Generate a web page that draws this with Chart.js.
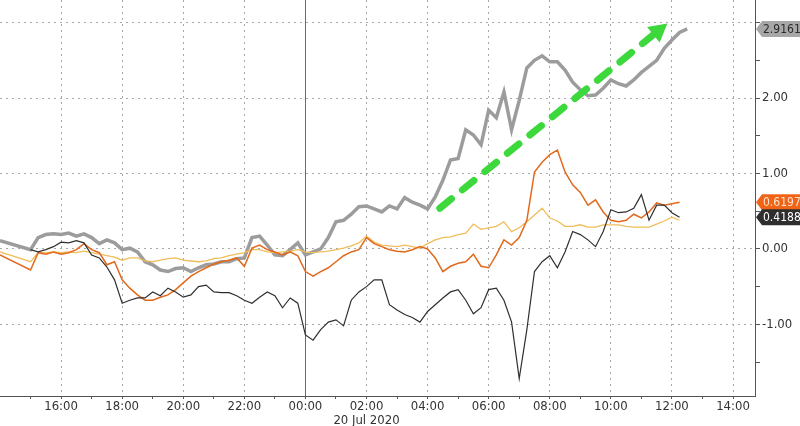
<!DOCTYPE html>
<html>
<head>
<meta charset="utf-8">
<script src="https://cdn.jsdelivr.net/npm/chart.js@4/dist/chart.umd.min.js"></script>
<style>
  html, body { margin: 0; padding: 0; background: #fff; }
  #wrap { width: 800px; height: 426px; position: relative; }
</style>
</head>
<body>
<div id="wrap"><canvas id="myChart"></canvas></div>
<script>
// hours relative to 00:00 on 20 Jul 2020 (-10 = 14:00 on 19 Jul)
const hours = [-10,
    -9, -8.75, -8.5, -8.25, -8, -7.75, -7.5, -7.25, -7, -6.75, -6.5, -6.25,
    -6, -5.75, -5.5, -5.25, -5, -4.75, -4.5, -4.25, -4, -3.75, -3.5, -3.25,
    -3, -2.75, -2.5, -2.25, -2, -1.75, -1.5, -1.25, -1, -0.75, -0.5, -0.25,
    0, 0.25, 0.5, 0.75, 1, 1.25, 1.5, 1.75, 2, 2.25, 2.5, 2.75,
    3, 3.25, 3.5, 3.75, 4, 4.25, 4.5, 4.75, 5, 5.25, 5.5, 5.75,
    6, 6.25, 6.5, 6.75, 7, 7.25, 7.5, 7.75, 8, 8.25, 8.5, 8.75,
    9, 9.25, 9.5, 9.75, 10, 10.25, 10.5, 10.75, 11, 11.25, 11.5, 11.75,
    12, 12.25, 12.5]

const grey = [0.11,
    -0.01, 0.15, 0.19, 0.2, 0.19, 0.21, 0.17, 0.2, 0.15, 0.07, 0.12, 0.08,
    -0.01, 0.01, -0.04, -0.17, -0.21, -0.28, -0.3, -0.26, -0.25, -0.3, -0.25, -0.21,
    -0.2, -0.17, -0.17, -0.13, -0.12, 0.15, 0.17, 0.05, -0.08, -0.09, -0.01, 0.08,
    -0.08, -0.04, 0, 0.15, 0.36, 0.38, 0.46, 0.56, 0.57, 0.53, 0.49, 0.57,
    0.53, 0.68, 0.62, 0.58, 0.53, 0.69, 0.91, 1.18, 1.2, 1.58, 1.51, 1.38,
    1.84, 1.74, 2.08, 1.58, 1.97, 2.4, 2.5, 2.56, 2.48, 2.48, 2.37, 2.21,
    2.11, 2.03, 2.04, 2.13, 2.24, 2.19, 2.16, 2.24, 2.34, 2.42, 2.5, 2.66,
    2.77, 2.87, 2.9161]

const orange = [-0.08,
    -0.28, -0.05, -0.07, -0.04, -0.07, -0.05, -0.01, 0.07, -0.01, -0.05, -0.21, -0.17,
    -0.41, -0.52, -0.61, -0.68, -0.68, -0.64, -0.61, -0.54, -0.45, -0.36, -0.3, -0.25,
    -0.2, -0.17, -0.15, -0.12, -0.23, 0.01, 0.05, -0.01, -0.04, -0.08, -0.04, -0.09,
    -0.3, -0.36, -0.3, -0.25, -0.17, -0.09, -0.04, -0.01, 0.15, 0.07, 0.03, -0.01,
    -0.03, -0.04, -0.01, 0.03, 0, -0.12, -0.3, -0.23, -0.19, -0.17, -0.07, -0.23,
    -0.25, -0.08, 0.12, 0.05, 0.15, 0.38, 1.02, 1.15, 1.25, 1.31, 1.02, 0.85,
    0.75, 0.58, 0.65, 0.49, 0.38, 0.36, 0.38, 0.46, 0.41, 0.49, 0.61, 0.58,
    0.6, 0.6197, null]

const black = [null,
    -0.01, -0.04, -0.01, 0.03, 0.09, 0.08, 0.11, 0.08, -0.08, -0.12, -0.24, -0.41,
    -0.72, -0.68, -0.65, -0.65, -0.57, -0.62, -0.52, -0.57, -0.64, -0.61, -0.5, -0.48,
    -0.57, -0.58, -0.58, -0.62, -0.68, -0.72, -0.64, -0.57, -0.62, -0.78, -0.65, -0.72,
    -1.14, -1.21, -1.07, -0.97, -0.94, -1.02, -0.68, -0.57, -0.5, -0.41, -0.41, -0.74,
    -0.81, -0.87, -0.91, -0.97, -0.83, -0.74, -0.65, -0.57, -0.54, -0.68, -0.86, -0.78,
    -0.54, -0.52, -0.68, -0.97, -1.72, -1.07, -0.3, -0.17, -0.09, -0.25, -0.04, 0.23,
    0.19, 0.12, 0.03, 0.23, 0.52, 0.48, 0.49, 0.54, 0.72, 0.38, 0.58, 0.58,
    0.48, 0.4188, null]

const yellow = [-0.04,
    -0.17, -0.05, -0.05, -0.04, -0.05, -0.04, -0.05, -0.03, -0.05, -0.07, -0.09, -0.11,
    -0.15, -0.12, -0.12, -0.16, -0.17, -0.15, -0.13, -0.12, -0.15, -0.16, -0.17, -0.16,
    -0.13, -0.12, -0.09, -0.07, -0.05, -0.01, -0.01, -0.04, -0.05, -0.04, -0.03, -0.01,
    -0.04, -0.05, -0.04, -0.03, -0.01, 0.01, 0.04, 0.08, 0.17, 0.09, 0.05, 0.04,
    0.03, 0.05, 0.03, 0.01, 0.07, 0.12, 0.15, 0.16, 0.19, 0.21, 0.33, 0.26,
    0.28, 0.3, 0.36, 0.23, 0.28, 0.36, 0.45, 0.54, 0.41, 0.37, 0.3, 0.3,
    0.32, 0.29, 0.29, 0.32, 0.32, 0.32, 0.3, 0.29, 0.29, 0.29, 0.33, 0.37,
    0.42, 0.38, null]

// x axis labels
const tickHours = [-8, -6, -4, -2, 0, 2, 4, 6, 8, 10, 12, 14]
const tickLabels = ['16:00', '18:00', '20:00', '22:00', '00:00', '02:00', '04:00', '06:00', '08:00', '10:00', '12:00', '14:00']
const dateHour = 2
const dateLabel = '20 Jul 2020'

// y axis labels
const yTicks = [-1, 0, 1, 2]

// last value tags on the right axis
const tags = [
    { text: '2.9161', value: 2.9161, fill: '#a7a7a7', color: '#2a2a2a' },
    { text: '0.6197', value: 0.6197, fill: '#f06418', color: '#ffe2cc' },
    { text: '0.4188', value: 0.4188, fill: '#2e2e2e', color: '#ffffff' }
]

// green trend arrow, in (hour, value)
const arrowFrom = [4.4, 0.54]
const arrowTo = [11.85, 2.99]

const pts = (arr) => hours.map((h, i) => ({ x: h, y: arr[i] }))

const font = { family: "'DejaVu Sans Condensed', 'Liberation Sans Narrow', sans-serif", size: 13, lineHeight: 1.1 }

const midnightLine = {
    id: 'midnightLine',
    beforeDatasetsDraw(chart) {
        const { ctx, chartArea, scales } = chart
        const x = Math.round(scales.x.getPixelForValue(0)) + 0.5
        ctx.save()
        ctx.strokeStyle = '#6a6a6a'
        ctx.lineWidth = 1
        ctx.beginPath()
        ctx.moveTo(x, chartArea.top)
        ctx.lineTo(x, chartArea.bottom)
        ctx.stroke()
        ctx.restore()
    }
}

const trendArrow = {
    id: 'trendArrow',
    afterDatasetsDraw(chart) {
        const { ctx, scales } = chart
        const x1 = scales.x.getPixelForValue(arrowFrom[0])
        const y1 = scales.y.getPixelForValue(arrowFrom[1])
        const x2 = scales.x.getPixelForValue(arrowTo[0])
        const y2 = scales.y.getPixelForValue(arrowTo[1])
        const ang = Math.atan2(y2 - y1, x2 - x1)
        const head = 18
        const bx = x2 - head * Math.cos(ang)
        const by = y2 - head * Math.sin(ang)
        ctx.save()
        ctx.strokeStyle = '#3cd83c'
        ctx.fillStyle = '#3cd83c'
        ctx.lineWidth = 7
        ctx.lineCap = 'round'
        ctx.setLineDash([15, 14])
        ctx.beginPath()
        ctx.moveTo(x1, y1)
        ctx.lineTo(bx, by)
        ctx.stroke()
        ctx.setLineDash([])
        ctx.beginPath()
        ctx.moveTo(x2, y2)
        ctx.lineTo(bx + 10 * Math.cos(ang + Math.PI / 2), by + 10 * Math.sin(ang + Math.PI / 2))
        ctx.lineTo(bx + 10 * Math.cos(ang - Math.PI / 2), by + 10 * Math.sin(ang - Math.PI / 2))
        ctx.closePath()
        ctx.fill()
        ctx.restore()
    }
}

const valueTags = {
    id: 'valueTags',
    afterDraw(chart) {
        const { ctx, scales } = chart
        const ax = scales.y.left
        ctx.save()
        ctx.font = "12px 'DejaVu Sans Condensed', 'Liberation Sans Narrow', sans-serif"
        ctx.textBaseline = 'middle'
        tags.forEach(t => {
            const yc = scales.y.getPixelForValue(t.value)
            ctx.fillStyle = t.fill
            ctx.beginPath()
            ctx.moveTo(ax + 1, yc)
            ctx.lineTo(ax + 7, yc - 8)
            ctx.lineTo(chart.width, yc - 8)
            ctx.lineTo(chart.width, yc + 8)
            ctx.lineTo(ax + 7, yc + 8)
            ctx.closePath()
            ctx.fill()
            ctx.fillStyle = t.color
            ctx.fillText(t.text, ax + 8, yc + 1)
        })
        ctx.restore()
    }
}

let plot = () => {
    const ctx = document.getElementById('myChart')

    const data = {
        datasets: [
            { label: 'black', data: pts(black), borderColor: '#2f2f2f', borderWidth: 1.2 },
            { label: 'orange', data: pts(orange), borderColor: '#e2691c', borderWidth: 1.5 },
            { label: 'yellow', data: pts(yellow), borderColor: '#efbd5a', borderWidth: 1.3 },
            { label: 'grey', data: pts(grey), borderColor: '#9c9c9c', borderWidth: 3.5 }
        ]
    }

    const config = {
        type: 'line',
        data: data,
        options: {
            responsive: true,
            maintainAspectRatio: false,
            animation: false,
            layout: { padding: 0 },
            elements: { point: { radius: 0 }, line: { tension: 0 } },
            plugins: { legend: { display: false }, tooltip: { enabled: false } },
            scales: {
                x: {
                    type: 'linear',
                    min: -10,
                    max: 14.72,
                    afterBuildTicks: (scale) => {
                        const t = []
                        for (let h = -9; h <= 14; h++) t.push({ value: h })
                        scale.ticks = t
                    },
                    afterFit: (scale) => {
                        scale.height = 30
                        scale.paddingLeft = 0
                        scale.paddingRight = 0
                    },
                    ticks: {
                        autoSkip: false,
                        maxRotation: 0,
                        padding: 0,
                        color: '#333',
                        font: font,
                        callback: (v) => {
                            const i = tickHours.indexOf(v)
                            if (i < 0) return ''
                            return v === dateHour ? [tickLabels[i], dateLabel] : tickLabels[i]
                        }
                    },
                    grid: {
                        color: (c) => (c.tick && c.tick.value % 2 === 0) ? '#a8a8a8' : 'rgba(0,0,0,0)',
                        tickColor: '#555',
                        tickLength: 3,
                        lineWidth: 1
                    },
                    border: { display: true, color: '#555', width: 1, dash: [2, 4] }
                },
                y: {
                    position: 'right',
                    min: -1.95,
                    max: 3.3,
                    afterBuildTicks: (scale) => {
                        const t = []
                        for (let v = -3; v <= 6; v++) t.push({ value: v / 2 })
                        scale.ticks = t
                    },
                    afterFit: (scale) => {
                        scale.width = 45
                        scale.paddingTop = 0
                        scale.paddingBottom = 0
                    },
                    ticks: {
                        padding: 2,
                        color: '#333',
                        font: { family: font.family, size: 13 },
                        callback: (v) => yTicks.includes(v) ? v.toFixed(2) : ''
                    },
                    grid: {
                        color: (c) => (c.tick && Number.isInteger(c.tick.value)) ? '#a8a8a8' : 'rgba(0,0,0,0)',
                        tickColor: '#555',
                        tickLength: 5,
                        lineWidth: 1
                    },
                    border: { display: true, color: '#555', width: 1, dash: [2, 4] }
                }
            }
        },
        plugins: [midnightLine, trendArrow, valueTags]
    }

    new Chart(ctx, config)
}

plot()
</script>
</body>
</html>
